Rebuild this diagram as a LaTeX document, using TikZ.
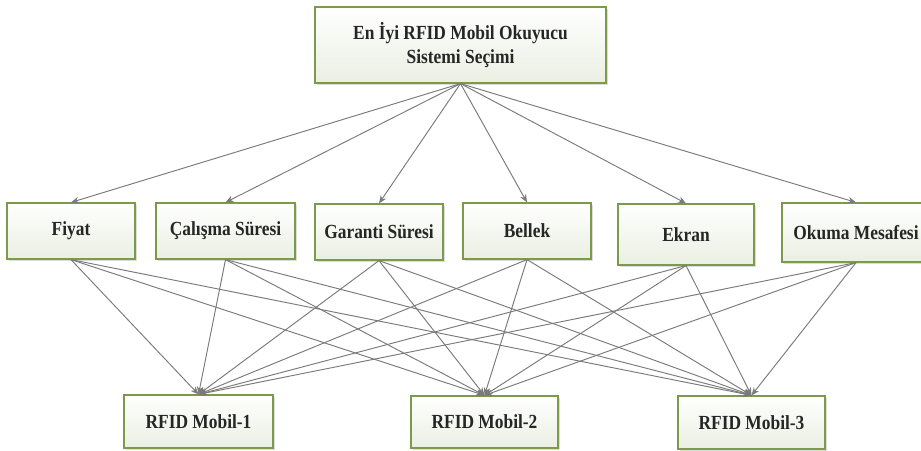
\documentclass[tikz,border=0pt]{standalone}
\usepackage{fontspec}
\setmainfont{Liberation Serif}[BoldFont={Liberation Serif Bold}, FakeStretch=0.87]
\usetikzlibrary{arrows.meta,shadows}
\definecolor{boxborder}{HTML}{7B9A4A}
\definecolor{boxbottom}{HTML}{EAEFE2}
\definecolor{linegray}{HTML}{7A7A7A}
\definecolor{txt}{HTML}{262626}
\begin{document}
\begin{tikzpicture}[x=1pt,y=-1pt,
  box/.style={draw=boxborder, line width=1.2pt, top color=white, bottom color=boxbottom,
    inner sep=0pt, text=txt, font=\fontsize{20}{24.5}\selectfont\bfseries, align=center,
    drop shadow={shadow xshift=1.5pt, shadow yshift=-1.5pt, opacity=0.22, fill=black!60}},
  link/.style={draw=linegray, line width=0.95pt, -{Stealth[length=8pt,width=6.5pt]}}]
\useasboundingbox (0,0) rectangle (921,450);

\node[box, minimum width=291pt, minimum height=76pt] (top) at (460.5,45) {En İyi RFID Mobil Okuyucu\\Sistemi Seçimi};

\node[box, minimum width=128pt, minimum height=56pt] (fiyat) at (71,231) {Fiyat};
\node[box, minimum width=139pt, minimum height=56pt] (calisma) at (225.5,231) {Çalışma Süresi};
\node[box, minimum width=128pt, minimum height=56pt] (garanti) at (379,232) {Garanti Süresi};
\node[box, minimum width=128pt, minimum height=56pt] (bellek) at (527,231) {Bellek};
\node[box, minimum width=136pt, minimum height=61pt] (ekran) at (686,234.5) {Ekran};
\node[box, minimum width=148pt, minimum height=59pt] (okuma) at (856,232.5) {Okuma Mesafesi};

\node[box, minimum width=149pt, minimum height=53pt] (m1) at (198.5,421.5) {RFID Mobil-1};
\node[box, minimum width=147pt, minimum height=52pt] (m2) at (484.5,422) {RFID Mobil-2};
\node[box, minimum width=147pt, minimum height=53pt] (m3) at (751.5,422.5) {RFID Mobil-3};

\foreach \c in {fiyat,calisma,garanti,bellek,ekran,okuma}{
  \draw[link] (top.south) -- (\c.north);
  \foreach \m in {m1,m2,m3}{
    \draw[link] (\c.south) -- (\m.north);
  }
}
\end{tikzpicture}
\end{document}
